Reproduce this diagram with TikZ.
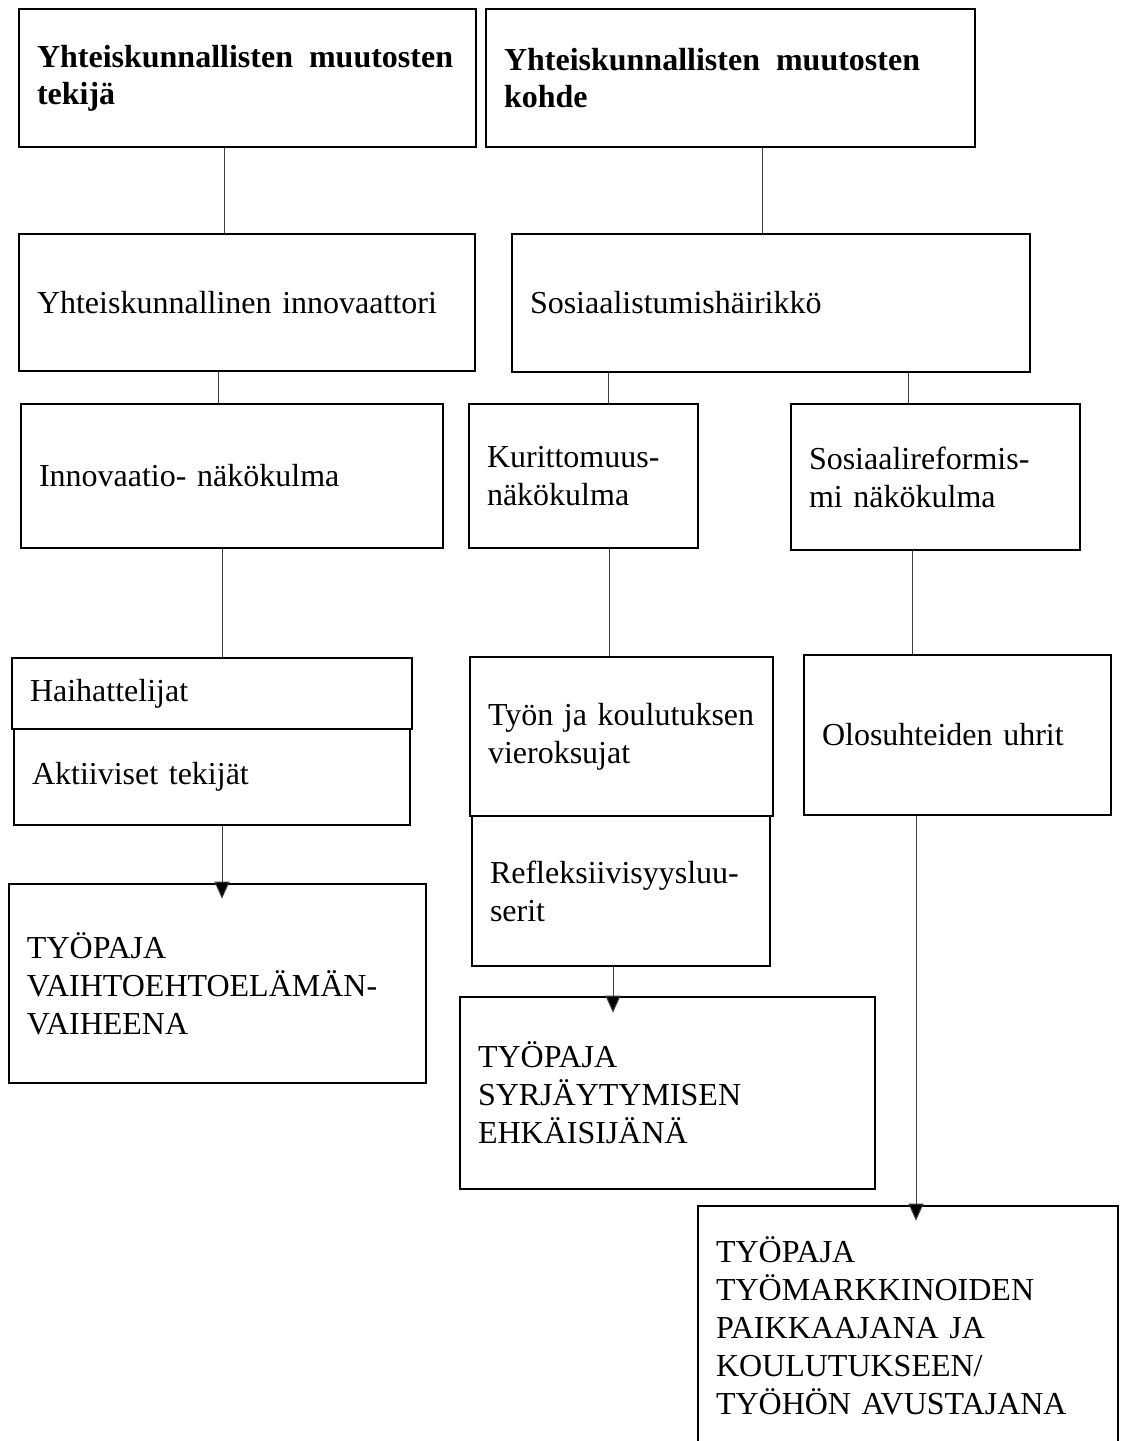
\documentclass[tikz,border=0pt]{standalone}
\usepackage{fontspec}
\setmainfont{Liberation Serif}
\usetikzlibrary{arrows.meta}
\tikzset{
  box/.style={draw=black, line width=2.6pt, rectangle, align=left, inner xsep=18pt, inner ysep=2pt, anchor=center},
  conn/.style={draw=black!75, line width=1pt},
  arr/.style={conn, -{Triangle[width=15pt,length=17pt,fill=black]}},
}
\newcommand\bx[7]{%
  \pgfmathsetmacro\bw{#4-#2}\pgfmathsetmacro\bh{#5-#3}\pgfmathsetmacro\tw{#4-#2-36}%
  \node[box,#6,minimum width=\bw pt,minimum height=\bh pt,text width=\tw pt] (#1) at ({(#2+#4)/2},{(#3+#5)/2}) {#7};}
\begin{document}
\begin{tikzpicture}[x=1pt,y=-1pt,font=\fontsize{32}{38}\selectfont]
\useasboundingbox (0,0) rectangle (1120,1441);
\clip (0,0) rectangle (1120,1441);
\fill[white] (0,0) rectangle (1120,1441);
% boxes
\bx{b1}{19}{9}{476}{147}{font=\fontsize{32}{37}\selectfont\bfseries}{Yhteiskunnallisten\hspace{16pt}muutosten\\tekijä}
\bx{b2}{486}{9}{975}{147}{font=\fontsize{32}{37}\selectfont\bfseries}{Yhteiskunnallisten\hspace{16pt}muutosten\\kohde}
\bx{b3}{19}{234}{475}{371}{}{Yhteiskunnallinen innovaattori}
\bx{b4}{512}{234}{1030}{372}{}{Sosiaalistumishäirikkö}
\bx{b5}{21}{404}{443}{548}{}{Innovaatio- näkökulma}
\bx{b6}{469}{404}{698}{548}{}{Kurittomuus-\\näkökulma}
\bx{b7}{791}{404}{1080}{550}{}{Sosiaalireformis-\\mi näkökulma}
\bx{b8}{12}{658}{412}{729}{}{Haihattelijat}
\bx{b9}{14}{729}{410}{825}{}{Aktiiviset tekijät}
\bx{b10}{470}{657}{773}{816}{}{Työn ja koulutuksen\\vieroksujat}
\bx{b11}{472}{816}{770}{966}{}{Refleksiivisyysluu-\\serit}
\bx{b12}{804}{655}{1111}{815}{}{Olosuhteiden uhrit}
\bx{b13}{9}{884}{426}{1083}{}{TYÖPAJA\\VAIHTOEHTOELÄMÄN-\\VAIHEENA}
\bx{b14}{460}{997}{875}{1189}{}{TYÖPAJA\\SYRJÄYTYMISEN\\EHKÄISIJÄNÄ}
\bx{b15}{698}{1206}{1118}{1446}{}{TYÖPAJA\\TYÖMARKKINOIDEN\\PAIKKAAJANA JA\\KOULUTUKSEEN/\\TYÖHÖN AVUSTAJANA}
% connector x positions
\coordinate (x1) at (224,0);
\coordinate (x2) at (762,0);
\coordinate (x3) at (218,0);
\coordinate (x4) at (608,0);
\coordinate (x5) at (908,0);
\coordinate (x6) at (222,0);
\coordinate (x7) at (609,0);
\coordinate (x8) at (912,0);
\coordinate (x9) at (222,0);
\coordinate (x10) at (613,0);
\coordinate (x11) at (916,0);
% connectors
\draw[conn] (b1.south -| x1) -- (b3.north -| x1);
\draw[conn] (b2.south -| x2) -- (b4.north -| x2);
\draw[conn] (b3.south -| x3) -- (b5.north -| x3);
\draw[conn] (b4.south -| x4) -- (b6.north -| x4);
\draw[conn] (b4.south -| x5) -- (b7.north -| x5);
\draw[conn] (b5.south -| x6) -- (b8.north -| x6);
\draw[conn] (b6.south -| x7) -- (b10.north -| x7);
\draw[conn] (b7.south -| x8) -- (b12.north -| x8);
\draw[arr] (b9.south -| x9) -- ([yshift=-16pt]b13.north -| x9);
\draw[arr] (b11.south -| x10) -- ([yshift=-17pt]b14.north -| x10);
\draw[arr] (b12.south -| x11) -- ([yshift=-16pt]b15.north -| x11);
\end{tikzpicture}
\end{document}
